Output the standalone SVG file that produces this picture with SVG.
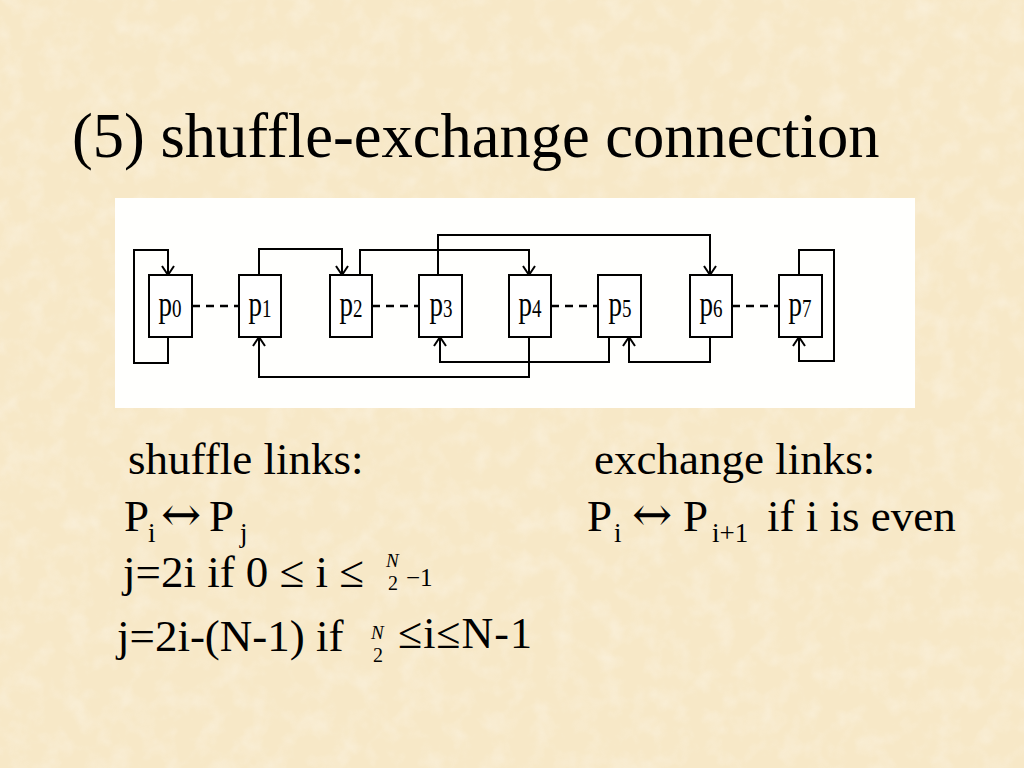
<svg xmlns="http://www.w3.org/2000/svg" width="1024" height="768" viewBox="0 0 1024 768">
<style>
  text { font-family: "Liberation Serif", "Times New Roman", "DejaVu Serif", serif; fill: #000; }
  .title { font-size: 62.5px; }
  .body { font-size: 45px; }
  .arrowsym { font-family: "DejaVu Serif", "DejaVu Sans", serif; font-size: 48px; }
  .box { fill: #fff; stroke: #000; stroke-width: 2; }
  .link { fill: none; stroke: #000; stroke-width: 2; }
  .ex { fill: none; stroke: #000; stroke-width: 2.4; stroke-dasharray: 8 6; }
  .lbl { font-size: 27px; }
  .sub { font-size: 19px; }
  .frac { font-size: 19px; font-style: italic; }
  .fracd { font-size: 20px; }
</style>
<defs>
  <marker id="arr" viewBox="-11 -8 13 16" refX="0" refY="0" markerWidth="13" markerHeight="16" markerUnits="userSpaceOnUse" orient="auto">
    <path d="M-9,-6 L0,0 L-9,6" fill="none" stroke="#000" stroke-width="2"/>
  </marker>
  <filter id="tex" x="0" y="0" width="100%" height="100%">
    <feTurbulence type="fractalNoise" baseFrequency="0.045" numOctaves="3" seed="7"/>
    <feColorMatrix type="matrix" values="0 0 0 0 1  0 0 0 0 1  0 0 0 0 1  0 0 0 1.4 -0.6"/>
  </filter>
</defs>
<rect x="0" y="0" width="1024" height="768" fill="#F7E8C7"/>
<rect x="0" y="0" width="1024" height="768" filter="url(#tex)" opacity="0.4"/>
<rect x="115" y="198" width="800" height="210" fill="#FFFFFD"/>

<text class="title" x="72" y="157">(5) shuffle-exchange connection</text>

<g id="connectors">
  <!-- exchange links -->
  <line class="ex" x1="192" y1="306" x2="239" y2="306"/>
  <line class="ex" x1="372" y1="306" x2="419" y2="306"/>
  <line class="ex" x1="551" y1="306" x2="598" y2="306"/>
  <line class="ex" x1="732" y1="306" x2="779" y2="306"/>
  <!-- shuffle links -->
  <path class="link" d="M168,337 V363 H134 V250 H168 V275" marker-end="url(#arr)"/>
  <path class="link" d="M259,275 V249 H342 V275" marker-end="url(#arr)"/>
  <path class="link" d="M360,275 V250 H529 V275" marker-end="url(#arr)"/>
  <path class="link" d="M438,275 V235 H710 V275" marker-end="url(#arr)"/>
  <path class="link" d="M529,337 V377 H259 V337" marker-end="url(#arr)"/>
  <path class="link" d="M609,337 V362 H440 V337" marker-end="url(#arr)"/>
  <path class="link" d="M710,337 V362 H629 V337" marker-end="url(#arr)"/>
  <path class="link" d="M799,275 V250 H834 V361 H799 V337" marker-end="url(#arr)"/>
</g>

<g id="p0"><rect class="box" x="149" y="275" width="43" height="62"/>
  <text class="lbl" text-anchor="middle" transform="translate(170,316) scale(1,1.3)">p<tspan class="sub" dy="1">0</tspan></text></g>
<g id="p1"><rect class="box" x="239" y="275" width="42" height="62"/>
  <text class="lbl" text-anchor="middle" transform="translate(260,316) scale(1,1.3)">p<tspan class="sub" dy="1">1</tspan></text></g>
<g id="p2"><rect class="box" x="330" y="275" width="42" height="62"/>
  <text class="lbl" text-anchor="middle" transform="translate(351,316) scale(1,1.3)">p<tspan class="sub" dy="1">2</tspan></text></g>
<g id="p3"><rect class="box" x="419" y="275" width="43" height="62"/>
  <text class="lbl" text-anchor="middle" transform="translate(441,316) scale(1,1.3)">p<tspan class="sub" dy="1">3</tspan></text></g>
<g id="p4"><rect class="box" x="509" y="275" width="42" height="62"/>
  <text class="lbl" text-anchor="middle" transform="translate(530,316) scale(1,1.3)">p<tspan class="sub" dy="1">4</tspan></text></g>
<g id="p5"><rect class="box" x="598" y="275" width="43" height="62"/>
  <text class="lbl" text-anchor="middle" transform="translate(620,316) scale(1,1.3)">p<tspan class="sub" dy="1">5</tspan></text></g>
<g id="p6"><rect class="box" x="690" y="275" width="42" height="62"/>
  <text class="lbl" text-anchor="middle" transform="translate(711,316) scale(1,1.3)">p<tspan class="sub" dy="1">6</tspan></text></g>
<g id="p7"><rect class="box" x="779" y="275" width="43" height="62"/>
  <text class="lbl" text-anchor="middle" transform="translate(800,316) scale(1,1.3)">p<tspan class="sub" dy="1">7</tspan></text></g>

<g id="text-left">
  <text class="body" x="128" y="474">shuffle links:</text>
  <text class="body" x="124" y="531">P</text>
  <text font-size="27" x="148" y="542">i</text>
  <text class="arrowsym" x="161" y="531">↔</text>
  <text class="body" x="209" y="531">P</text>
  <text font-size="27" x="240" y="542">j</text>
  <text class="body" x="123" y="587">j=2i if 0 ≤ i ≤</text>
  <text class="frac" x="386" y="567">N</text>
  <text class="fracd" x="388" y="590">2</text>
  <text font-size="25" x="406" y="586">−1</text>
  <text class="body" x="117" y="651">j=2i-(N-1) if</text>
  <text class="frac" x="371" y="639">N</text>
  <text class="fracd" x="373" y="662">2</text>
  <text font-size="44" x="398" y="648" letter-spacing="1">≤i≤N-1</text>
</g>
<g id="text-right">
  <text class="body" x="594" y="474">exchange links:</text>
  <text class="body" x="587" y="531">P</text>
  <text font-size="27" x="614" y="542">i</text>
  <text class="arrowsym" x="632" y="531">↔</text>
  <text class="body" x="683" y="531">P</text>
  <text font-size="27" x="712" y="542">i+1</text>
  <text class="body" x="767" y="531">if i is even</text>
</g>
</svg>
